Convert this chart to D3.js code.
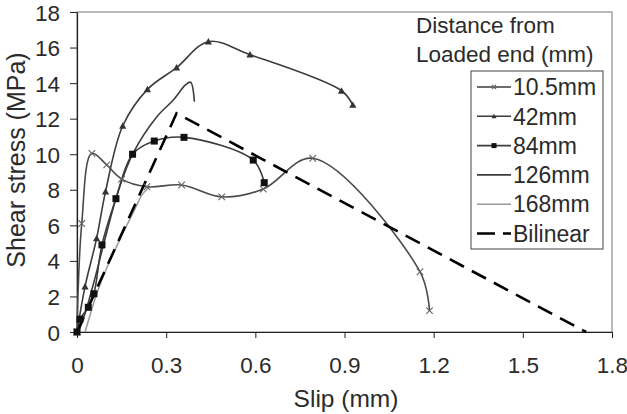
<!DOCTYPE html>
<html><head><meta charset="utf-8">
<script src="https://cdn.jsdelivr.net/npm/d3@7"></script>
<style>body{margin:0;background:#fff;}svg{display:block;font-family:"Liberation Sans",Arial,sans-serif;}</style>
</head><body><svg id="c" width="627" height="414"></svg>
<script>
const xTicks = [0, 0.3, 0.6, 0.9, 1.2, 1.5, 1.8];
const yTicks = [0, 2, 4, 6, 8, 10, 12, 14, 16, 18];
const legendTitle = ["Distance from", "Loaded end (mm)"];
const seriesNames = ["10.5mm", "42mm", "84mm", "126mm", "168mm", "Bilinear"];

const s105 = [[0,0],[0.016,6.1],[0.05,10.05],[0.1,9.4],[0.15,8.6],[0.235,8.17],[0.352,8.27],[0.487,7.6],[0.627,8.04],[0.793,9.77],[1.154,3.39],[1.186,1.2]];
const s42 = [[0,0],[0.027,2.55],[0.066,5.27],[0.096,7.9],[0.154,11.6],[0.237,13.65],[0.335,14.87],[0.442,16.33],[0.582,15.6],[0.89,13.57],[0.928,12.77]];
const s84 = [[0,0],[0.01,0.72],[0.038,1.39],[0.057,2.15],[0.084,4.9],[0.131,7.5],[0.187,10.0],[0.26,10.74],[0.36,10.95],[0.593,9.67],[0.63,8.4]];
const s126 = [[0.005,0],[0.03,1.2],[0.06,3.0],[0.1,5.6],[0.14,8.0],[0.19,10.1],[0.268,12.1],[0.324,13.05],[0.365,13.9],[0.382,14.05],[0.395,12.95]];
const s168 = [[0.027,0],[0.045,1.0],[0.065,2.1],[0.1,3.6],[0.15,5.4],[0.2,7.1],[0.218,7.7],[0.245,8.2]];
const sBil = [[0,0],[0.335,12.3],[1.713,0]];

const svg = d3.select("#c");
const L = 77, R = 612, T = 12, B = 332;
const x = d3.scaleLinear().domain([0, 1.8]).range([L, R]);
const y = d3.scaleLinear().domain([0, 18]).range([B, T]);
const txt = "#2b2b2b";

// frame
svg.append("rect").attr("x", L).attr("y", T).attr("width", R - L).attr("height", B - T)
  .attr("fill", "none").attr("stroke", "#777").attr("stroke-width", 1);

const xa = svg.append("g").attr("transform", `translate(0,${B})`)
  .call(d3.axisBottom(x).tickValues(xTicks).tickFormat(d => d === 0 ? "0" : d3.format(".1f")(d)).tickSize(6).tickSizeOuter(0));
const ya = svg.append("g").attr("transform", `translate(${L},0)`)
  .call(d3.axisLeft(y).tickValues(yTicks).tickFormat(d3.format("d")).tickSize(7).tickSizeOuter(0));
[xa, ya].forEach(a => {
  a.select(".domain").attr("stroke", "#222").attr("stroke-width", 1.2);
  a.selectAll(".tick line").attr("stroke", "#222");
  a.selectAll("text").attr("font-size", 22.5).attr("fill", txt).attr("font-family", "Liberation Sans, Arial, sans-serif");
});
xa.selectAll("text").attr("dy", null).attr("y", 41);
ya.selectAll("text").attr("x", -17).attr("dy", "0.36em");

svg.append("text").attr("x", 346).attr("y", 407).attr("text-anchor", "middle")
  .attr("font-size", 24.5).attr("fill", txt).text("Slip (mm)");
svg.append("text").attr("transform", "translate(25,160) rotate(-90)").attr("text-anchor", "middle")
  .attr("font-size", 25).attr("fill", txt).text("Shear stress (MPa)");

const line = d3.line().x(d => x(d[0])).y(d => y(d[1])).curve(d3.curveCatmullRom.alpha(0.5));
const dark = "#3c3c3c";
function path(data, color, w, dash) {
  const p = svg.append("path").datum(data).attr("d", line).attr("fill", "none")
    .attr("stroke", color).attr("stroke-width", w);
  if (dash) p.attr("stroke-dasharray", dash);
}
path(s168, "#999", 1.5);
path(s126, dark, 1.6);
path(s84, dark, 1.6);
path(s42, dark, 1.6);
path(s105, "#4a4a4a", 1.6);
svg.append("path").datum(sBil).attr("d", d3.line().x(d => x(d[0])).y(d => y(d[1])))
  .attr("fill", "none").attr("stroke", "#000").attr("stroke-width", 2.6).attr("stroke-dasharray", "16,9");

function xMark(g, cx, cy, r, c) {
  g.append("path").attr("d", `M${cx-r},${cy-r}L${cx+r},${cy+r}M${cx-r},${cy+r}L${cx+r},${cy-r}`)
    .attr("stroke", c).attr("stroke-width", 1.1);
}
function tri(g, cx, cy, r, c) {
  g.append("path").attr("d", `M${cx},${cy-r}L${cx+r},${cy+r*0.8}L${cx-r},${cy+r*0.8}Z`).attr("fill", c);
}
function sq(g, cx, cy, r, c) {
  g.append("rect").attr("x", cx - r).attr("y", cy - r).attr("width", 2 * r).attr("height", 2 * r).attr("fill", c);
}
const mg = svg.append("g");
s105.forEach(d => xMark(mg, x(d[0]), y(d[1]), 3.3, "#666"));
s42.forEach(d => tri(mg, x(d[0]), y(d[1]), 3.6, "#333"));
s84.forEach(d => sq(mg, x(d[0]), y(d[1]), 3.5, "#111"));

// legend
svg.selectAll(".lt").data(legendTitle).enter().append("text")
  .attr("x", 416).attr("y", (d, i) => 33 + i * 29).attr("font-size", 22.5).attr("fill", txt).text(d => d);
svg.append("rect").attr("x", 471).attr("y", 71).attr("width", 132).attr("height", 178)
  .attr("fill", "#fff").attr("stroke", "#444").attr("stroke-width", 1);
const styles = [
  {c: dark, w: 1.6, m: "x"}, {c: dark, w: 1.6, m: "t"}, {c: dark, w: 1.6, m: "s"},
  {c: dark, w: 1.6}, {c: "#999", w: 1.5}, {c: "#000", w: 2.6, dash: "18,8"}
];
const lg = svg.append("g");
seriesNames.forEach((n, i) => {
  const cy = 87 + i * 29.3;
  const st = styles[i];
  const l = lg.append("line").attr("x1", 477).attr("x2", 511).attr("y1", cy).attr("y2", cy)
    .attr("stroke", st.c).attr("stroke-width", st.w);
  if (st.dash) l.attr("stroke-dasharray", st.dash);
  if (st.m === "x") xMark(lg, 494, cy, 2, "#666");
  if (st.m === "t") tri(lg, 494, cy, 2.5, "#333");
  if (st.m === "s") sq(lg, 494, cy, 2.5, "#111");
  lg.append("text").attr("x", 513).attr("y", cy).attr("dy", "0.36em").attr("font-size", 23)
    .attr("fill", txt).text(n);
});
</script></body></html>
